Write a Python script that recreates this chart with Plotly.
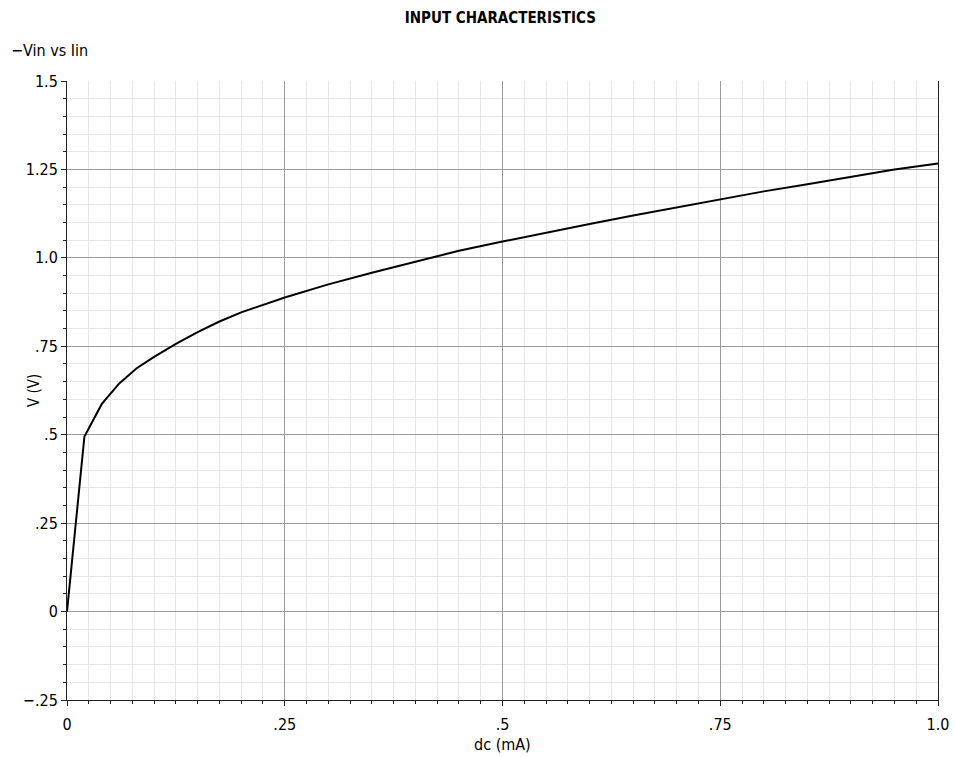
import plotly.graph_objects as go

# Data (dc current in mA, voltage in V)
iin_ma = [0, 0.02, 0.04, 0.06, 0.08, 0.1, 0.125, 0.15, 0.175, 0.2, 0.25, 0.3, 0.35,
          0.4, 0.45, 0.5, 0.55, 0.6, 0.65, 0.7, 0.75, 0.8, 0.85, 0.9, 0.95, 1.0]
vin_v = [0, 0.495, 0.587, 0.645, 0.688, 0.72, 0.757, 0.79, 0.82, 0.846, 0.888, 0.925, 0.958,
         0.99, 1.02, 1.046, 1.072, 1.096, 1.12, 1.143, 1.166, 1.188, 1.208, 1.229, 1.25, 1.267]

x_tickvals = [0, 0.25, 0.5, 0.75, 1.0]
x_ticktext = ["0", ".25", ".5", ".75", "1.0"]
y_tickvals = [-0.25, 0, 0.25, 0.5, 0.75, 1.0, 1.25, 1.5]
y_ticktext = ["−.25", "0", ".25", ".5", ".75", "1.0", "1.25", "1.5"]

FONT = "DejaVu Sans Condensed, DejaVu Sans, sans-serif"

fig = go.Figure()
fig.add_trace(go.Scatter(x=iin_ma, y=vin_v, mode="lines", name="Vin vs Iin",
                         line=dict(color="black", width=2), showlegend=False))

fig.update_layout(
    width=954, height=757,
    margin=dict(l=67, r=16, t=81, b=57),
    paper_bgcolor="white", plot_bgcolor="white",
    font=dict(family=FONT, size=16, color="black"),
    title=dict(text="INPUT CHARACTERISTICS", xref="paper", x=0.4975, xanchor="center",
               y=0.976, yanchor="middle",
               font=dict(family=FONT, size=15, color="black", weight="bold")),
    annotations=[
        dict(text="−Vin vs Iin", xref="paper", yref="paper",
             x=-0.067, y=1.05, xanchor="left", yanchor="middle",
             showarrow=False, font=dict(family=FONT, size=16, color="black")),
        dict(text="V (V)", xref="paper", yref="paper", textangle=-90,
             x=-0.0385, y=0.5, xanchor="center", yanchor="middle",
             showarrow=False, font=dict(family=FONT, size=15, color="black")),
        dict(text="dc (mA)", xref="paper", yref="paper",
             x=0.5, y=-0.0725, xanchor="center", yanchor="middle",
             showarrow=False, font=dict(family=FONT, size=16, color="black")),
    ],
)

fig.update_xaxes(
    range=[0, 1.0], tickvals=x_tickvals, ticktext=x_ticktext, automargin=False,
    showgrid=True, gridcolor="#9a9a9a", gridwidth=1, zeroline=False,
    showline=True, linecolor="#222222", linewidth=1,
    ticks="outside", ticklen=5, tickcolor="#222222", ticklabelstandoff=5,
    minor=dict(dtick=0.025, tick0=0, showgrid=True, gridcolor="#e6e6e6",
               ticks="outside", ticklen=3, tickcolor="#222222"),
    tickfont=dict(size=16),
)
fig.update_yaxes(
    range=[-0.25, 1.5], tickvals=y_tickvals, ticktext=y_ticktext, automargin=False,
    showgrid=True, gridcolor="#9a9a9a", gridwidth=1, zeroline=False,
    showline=True, linecolor="#222222", linewidth=1, mirror=True,
    ticks="outside", ticklen=5, tickcolor="#222222",
    minor=dict(dtick=0.05, tick0=0, showgrid=True, gridcolor="#e6e6e6",
               ticks="outside", ticklen=3, tickcolor="#222222"),
    tickfont=dict(size=16),
)

fig.write_html("out.html")
